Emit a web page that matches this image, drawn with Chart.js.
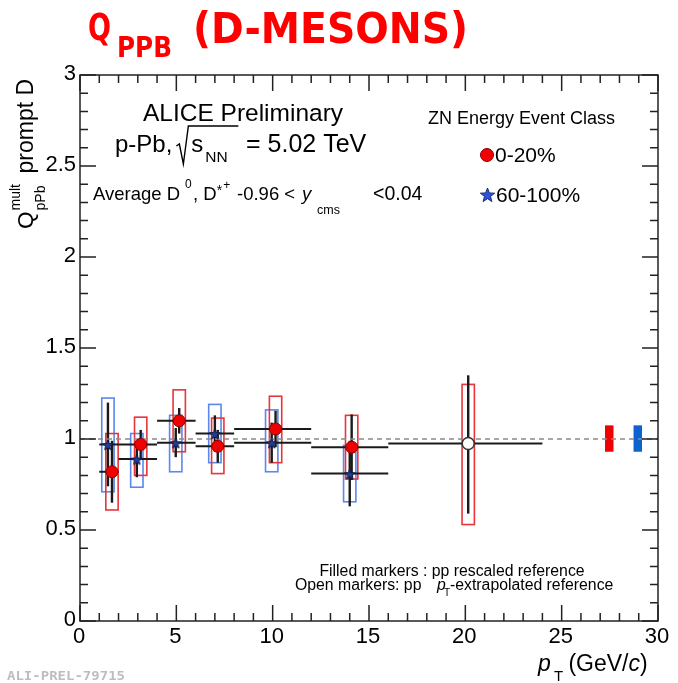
<!DOCTYPE html>
<html lang="en">
<head>
<meta charset="UTF-8">
<title>Q pPb D-mesons</title>
<script src="https://cdn.jsdelivr.net/npm/chart.js"></script>
<style>
  body { margin: 0; background: #fff; }
  canvas { display: block; }
</style>
</head>
<body>
<canvas id="qChart" width="678" height="683"></canvas>
<script>
// ZN class 0-20% (filled red circles)
var redX = [1.66, 3.15, 5.15, 7.15, 10.15, 14.1];
var redY = [0.82, 0.97, 1.10, 0.96, 1.055, 0.955];
var redStat = [0.17, 0.08, 0.07, 0.09, 0.10, 0.18];
var redSysLo = [0.61, 0.80, 0.93, 0.81, 0.87, 0.78];
var redSysHi = [1.03, 1.12, 1.27, 1.115, 1.235, 1.13];
// ZN class 60-100% (blue stars)
var blueX = [1.45, 2.95, 4.97, 7.0, 9.95, 14.0];
var blueY = [0.97, 0.89, 0.98, 1.03, 0.98, 0.81];
var blueStat = [0.23, 0.10, 0.08, 0.10, 0.11, 0.18];
var blueSysLo = [0.71, 0.735, 0.82, 0.87, 0.82, 0.655];
var blueSysHi = [1.225, 1.03, 1.13, 1.19, 1.16, 0.965];
// pT bins
var binLo = [1, 2, 4, 6, 8, 12];
var binHi = [2, 4, 6, 8, 12, 16];
// open marker : pT-extrapolated pp reference
var openX = [20.15];
var openY = [0.975];
var openStatLo = [0.59];
var openStatHi = [1.35];
var openSysLo = [0.53];
var openSysHi = [1.30];
var openBinLo = [16];
var openBinHi = [24];
// normalisation uncertainties (0-20%, 60-100%)
var normX = [27.47, 28.95];
var normLo = [0.93, 0.93];
var normHi = [1.075, 1.075];
var refLine = [1];
var xTicks = [0, 5, 10, 15, 20, 25, 30];
var yTicks = [0, 0.5, 1, 1.5, 2, 2.5, 3];

var SANS = '"Liberation Sans", Arial, sans-serif';

function starImage(size, fill, stroke) {
  var c = document.createElement('canvas');
  c.width = c.height = size;
  var g = c.getContext('2d');
  var R = size / 2 - 1, r = R * 0.42;
  g.beginPath();
  for (var i = 0; i < 10; i++) {
    var a = -Math.PI / 2 + i * Math.PI / 5;
    var rr = i % 2 ? r : R;
    g.lineTo(size / 2 + rr * Math.cos(a), size / 2 + 1 + rr * Math.sin(a));
  }
  g.closePath();
  g.fillStyle = fill;
  g.fill();
  g.strokeStyle = stroke;
  g.lineWidth = 1;
  g.stroke();
  return c;
}

function put(ctx, s, x, y, size, opt) {
  opt = opt || {};
  ctx.font = (opt.style || '') + ' ' + size + 'px ' + (opt.family || SANS);
  ctx.fillStyle = opt.color || '#000';
  ctx.textAlign = opt.align || 'left';
  ctx.textBaseline = opt.base || 'alphabetic';
  ctx.fillText(s, x, y);
  return x + ctx.measureText(s).width;
}

function fitText(ctx, s, x, y, font, w, color) {
  ctx.save();
  ctx.font = font;
  var m = ctx.measureText(s).width;
  ctx.translate(x, y);
  ctx.scale(w / m, 1);
  ctx.fillStyle = color;
  ctx.textAlign = 'left';
  ctx.textBaseline = 'alphabetic';
  ctx.fillText(s, 0, 0);
  ctx.restore();
}

// boxes (systematics) and error bars, through the chart scales
var errorPlugin = {
  id: 'errorPlugin',
  beforeDatasetsDraw: function(chart) {
    var ctx = chart.ctx, xs = chart.scales.x, ys = chart.scales.y;
    var hw = 0.32;
    function box(x, lo, hi, color) {
      var l = xs.getPixelForValue(x - hw), r = xs.getPixelForValue(x + hw);
      var t = ys.getPixelForValue(hi), b = ys.getPixelForValue(lo);
      ctx.strokeStyle = color;
      ctx.lineWidth = 1.6;
      ctx.strokeRect(l, t, r - l, b - t);
    }
    function bars(x, y, lo, hi, bl, bh) {
      ctx.strokeStyle = '#1a1a1a';
      ctx.lineWidth = 2.4;
      ctx.beginPath();
      ctx.moveTo(xs.getPixelForValue(x), ys.getPixelForValue(lo));
      ctx.lineTo(xs.getPixelForValue(x), ys.getPixelForValue(hi));
      ctx.stroke();
      ctx.lineWidth = 2;
      ctx.beginPath();
      ctx.moveTo(xs.getPixelForValue(bl), ys.getPixelForValue(y));
      ctx.lineTo(xs.getPixelForValue(bh), ys.getPixelForValue(y));
      ctx.stroke();
    }
    ctx.save();
    var i;
    for (i = 0; i < blueX.length; i++) box(blueX[i], blueSysLo[i], blueSysHi[i], '#5a88ec');
    for (i = 0; i < redX.length; i++) box(redX[i], redSysLo[i], redSysHi[i], '#e8353a');
    for (i = 0; i < openX.length; i++) box(openX[i], openSysLo[i], openSysHi[i], '#e8353a');
    for (i = 0; i < blueX.length; i++) bars(blueX[i], blueY[i], blueY[i] - blueStat[i], blueY[i] + blueStat[i], binLo[i], binHi[i]);
    for (i = 0; i < redX.length; i++) bars(redX[i], redY[i], redY[i] - redStat[i], redY[i] + redStat[i], binLo[i], binHi[i]);
    for (i = 0; i < openX.length; i++) bars(openX[i], openY[i], openStatLo[i], openStatHi[i], openBinLo[i], openBinHi[i]);
    // normalisation boxes
    var normCol = ['#f00000', '#0b63d0'];
    for (i = 0; i < normX.length; i++) {
      var l = xs.getPixelForValue(normX[i] - 0.22), r = xs.getPixelForValue(normX[i] + 0.22);
      var t = ys.getPixelForValue(normHi[i]), b = ys.getPixelForValue(normLo[i]);
      ctx.fillStyle = normCol[i];
      ctx.fillRect(l, t, r - l, b - t);
    }
    ctx.restore();
  }
};

// ROOT-like frame, inward ticks, labels and annotations
var framePlugin = {
  id: 'framePlugin',
  afterDraw: function(chart) {
    var ctx = chart.ctx, a = chart.chartArea, xs = chart.scales.x, ys = chart.scales.y;
    ctx.save();
    ctx.strokeStyle = '#222';
    ctx.lineWidth = 1.5;
    ctx.strokeRect(a.left, a.top, a.right - a.left, a.bottom - a.top);
    ctx.beginPath();
    var v, p, len;
    for (v = xTicks[0]; v <= xTicks[xTicks.length - 1] + 1e-9; v += 1) {
      p = xs.getPixelForValue(v);
      len = Math.abs(v % 5) < 1e-6 ? 16 : 8;
      ctx.moveTo(p, a.bottom); ctx.lineTo(p, a.bottom - len);
      ctx.moveTo(p, a.top); ctx.lineTo(p, a.top + len);
    }
    for (var k = 0; k <= 30; k++) {
      v = k / 10;
      p = ys.getPixelForValue(v);
      len = k % 5 === 0 ? 16 : 8;
      ctx.moveTo(a.left, p); ctx.lineTo(a.left + len, p);
      ctx.moveTo(a.right, p); ctx.lineTo(a.right - len, p);
    }
    ctx.stroke();

    xTicks.forEach(function(t) {
      put(ctx, String(t), xs.getPixelForValue(t) - 1, 643, 22, {align: 'center'});
    });
    yTicks.forEach(function(t) {
      put(ctx, String(t), a.left - 4, ys.getPixelForValue(t) - 1, 22, {align: 'right', base: 'middle'});
    });

    // axis titles
    put(ctx, 'p', 538, 671, 23, {style: 'italic'});
    put(ctx, 'T', 554, 681, 15);
    var xx = put(ctx, ' (GeV/', 562, 671, 23);
    xx = put(ctx, 'c', xx, 671, 23, {style: 'italic'});
    put(ctx, ')', xx, 671, 23);

    ctx.save();
    ctx.translate(33, 229);
    ctx.rotate(-Math.PI / 2);
    var q = put(ctx, 'Q', 0, 0, 22.5);
    put(ctx, 'mult', q + 1, -13, 14);
    put(ctx, 'pPb', q + 1, 12, 14);
    put(ctx, 'prompt D', q + 38, 0, 23);
    ctx.restore();

    // annotations
    put(ctx, 'ALICE Preliminary', 243, 121, 24.5, {align: 'center'});
    xx = put(ctx, 'p-Pb,', 115, 152, 24);
    xx += 4;
    ctx.strokeStyle = '#000';
    ctx.lineWidth = 1.4;
    ctx.beginPath();
    ctx.moveTo(xx, 146);
    ctx.lineTo(xx + 3, 144);
    ctx.lineTo(xx + 7, 164);
    ctx.lineTo(xx + 12, 126);
    ctx.lineTo(xx + 62, 126);
    ctx.stroke();
    xx = put(ctx, 's', xx + 15, 152, 24);
    xx = put(ctx, 'NN', xx + 2, 162, 15.5);
    put(ctx, '= 5.02 TeV', 246, 152, 25);

    xx = put(ctx, 'Average D', 93, 200, 18.5);
    put(ctx, '0', xx + 5, 188, 12);
    xx = put(ctx, ', D', xx + 13, 200, 18.5);
    xx = put(ctx, '*', xx, 195, 14);
    put(ctx, '+', xx + 1, 189, 12);
    put(ctx, '-0.96 <', 237, 200, 18.5);
    put(ctx, 'y', 302, 200, 18.5, {style: 'italic'});
    put(ctx, 'cms', 317, 214, 12.5);
    put(ctx, '<0.04', 373, 200, 19.5);

    put(ctx, 'ZN Energy Event Class', 428, 124, 18);
    ctx.beginPath();
    ctx.arc(487, 155, 6.5, 0, Math.PI * 2);
    ctx.fillStyle = '#f00000';
    ctx.fill();
    ctx.strokeStyle = '#800';
    ctx.lineWidth = 1;
    ctx.stroke();
    put(ctx, '0-20%', 495, 162, 21);
    ctx.drawImage(starImage(17, '#2a54e0', '#1a2a70'), 479, 186);
    put(ctx, '60-100%', 496, 202, 21);

    put(ctx, 'Filled markers : pp rescaled reference', 452, 576, 15.8, {align: 'center'});
    xx = put(ctx, 'Open markers: pp', 295, 590, 15.8);
    put(ctx, 'p', 437, 590, 15.8, {style: 'italic'});
    put(ctx, 'T', 444, 596, 10);
    put(ctx, '-extrapolated reference', 450, 590, 15.8);

    // header and watermark
    var hand = '"DejaVu Sans Condensed", "DejaVu Sans", sans-serif';
    fitText(ctx, 'Q', 88, 40, 'bold 38px ' + hand, 23, '#ff0000');
    fitText(ctx, 'PPB', 117, 57, 'bold 29px ' + hand, 55, '#ff0000');
    fitText(ctx, '(D-MESONS)', 193, 43, 'bold 42px ' + hand, 275, '#ff0000');
    fitText(ctx, 'ALI-PREL-79715', 7, 680, 'bold 13px "DejaVu Sans Mono", monospace', 118, '#bdbdbd');
    ctx.restore();
  }
};

var ctx = document.getElementById('qChart').getContext('2d');
var qChart = new Chart(ctx, {
  type: 'scatter',
  data: {
    datasets: [{
      label: '0-20%',
      data: redX.map(function(x, i) { return {x: x, y: redY[i]}; }),
      pointStyle: 'circle',
      pointRadius: 6,
      backgroundColor: '#f00000',
      borderColor: '#900000',
      borderWidth: 1,
      order: 0
    }, {
      label: '60-100%',
      data: blueX.map(function(x, i) { return {x: x, y: blueY[i]}; }),
      pointStyle: starImage(13, '#1f3d9c', '#111a40'),
      order: 1
    }, {
      label: 'extrapolated',
      data: openX.map(function(x, i) { return {x: x, y: openY[i]}; }),
      pointStyle: 'circle',
      pointRadius: 6,
      backgroundColor: '#ffffff',
      borderColor: '#333333',
      borderWidth: 1.5,
      order: 2
    }, {
      type: 'line',
      label: 'ref',
      data: [{x: xTicks[0], y: refLine[0]}, {x: xTicks[xTicks.length - 1], y: refLine[0]}],
      borderColor: '#8a8a8a',
      borderDash: [5, 4],
      borderWidth: 1.5,
      pointRadius: 0,
      order: 5
    }]
  },
  options: {
    responsive: false,
    animation: false,
    devicePixelRatio: 1,
    layout: { padding: { left: 80, top: 75, right: 20, bottom: 62 } },
    plugins: { legend: { display: false }, tooltip: { enabled: false } },
    scales: {
      x: { type: 'linear', min: 0, max: 30, display: false },
      y: { type: 'linear', min: 0, max: 3, display: false }
    }
  },
  plugins: [errorPlugin, framePlugin]
});
</script>
</body>
</html>
